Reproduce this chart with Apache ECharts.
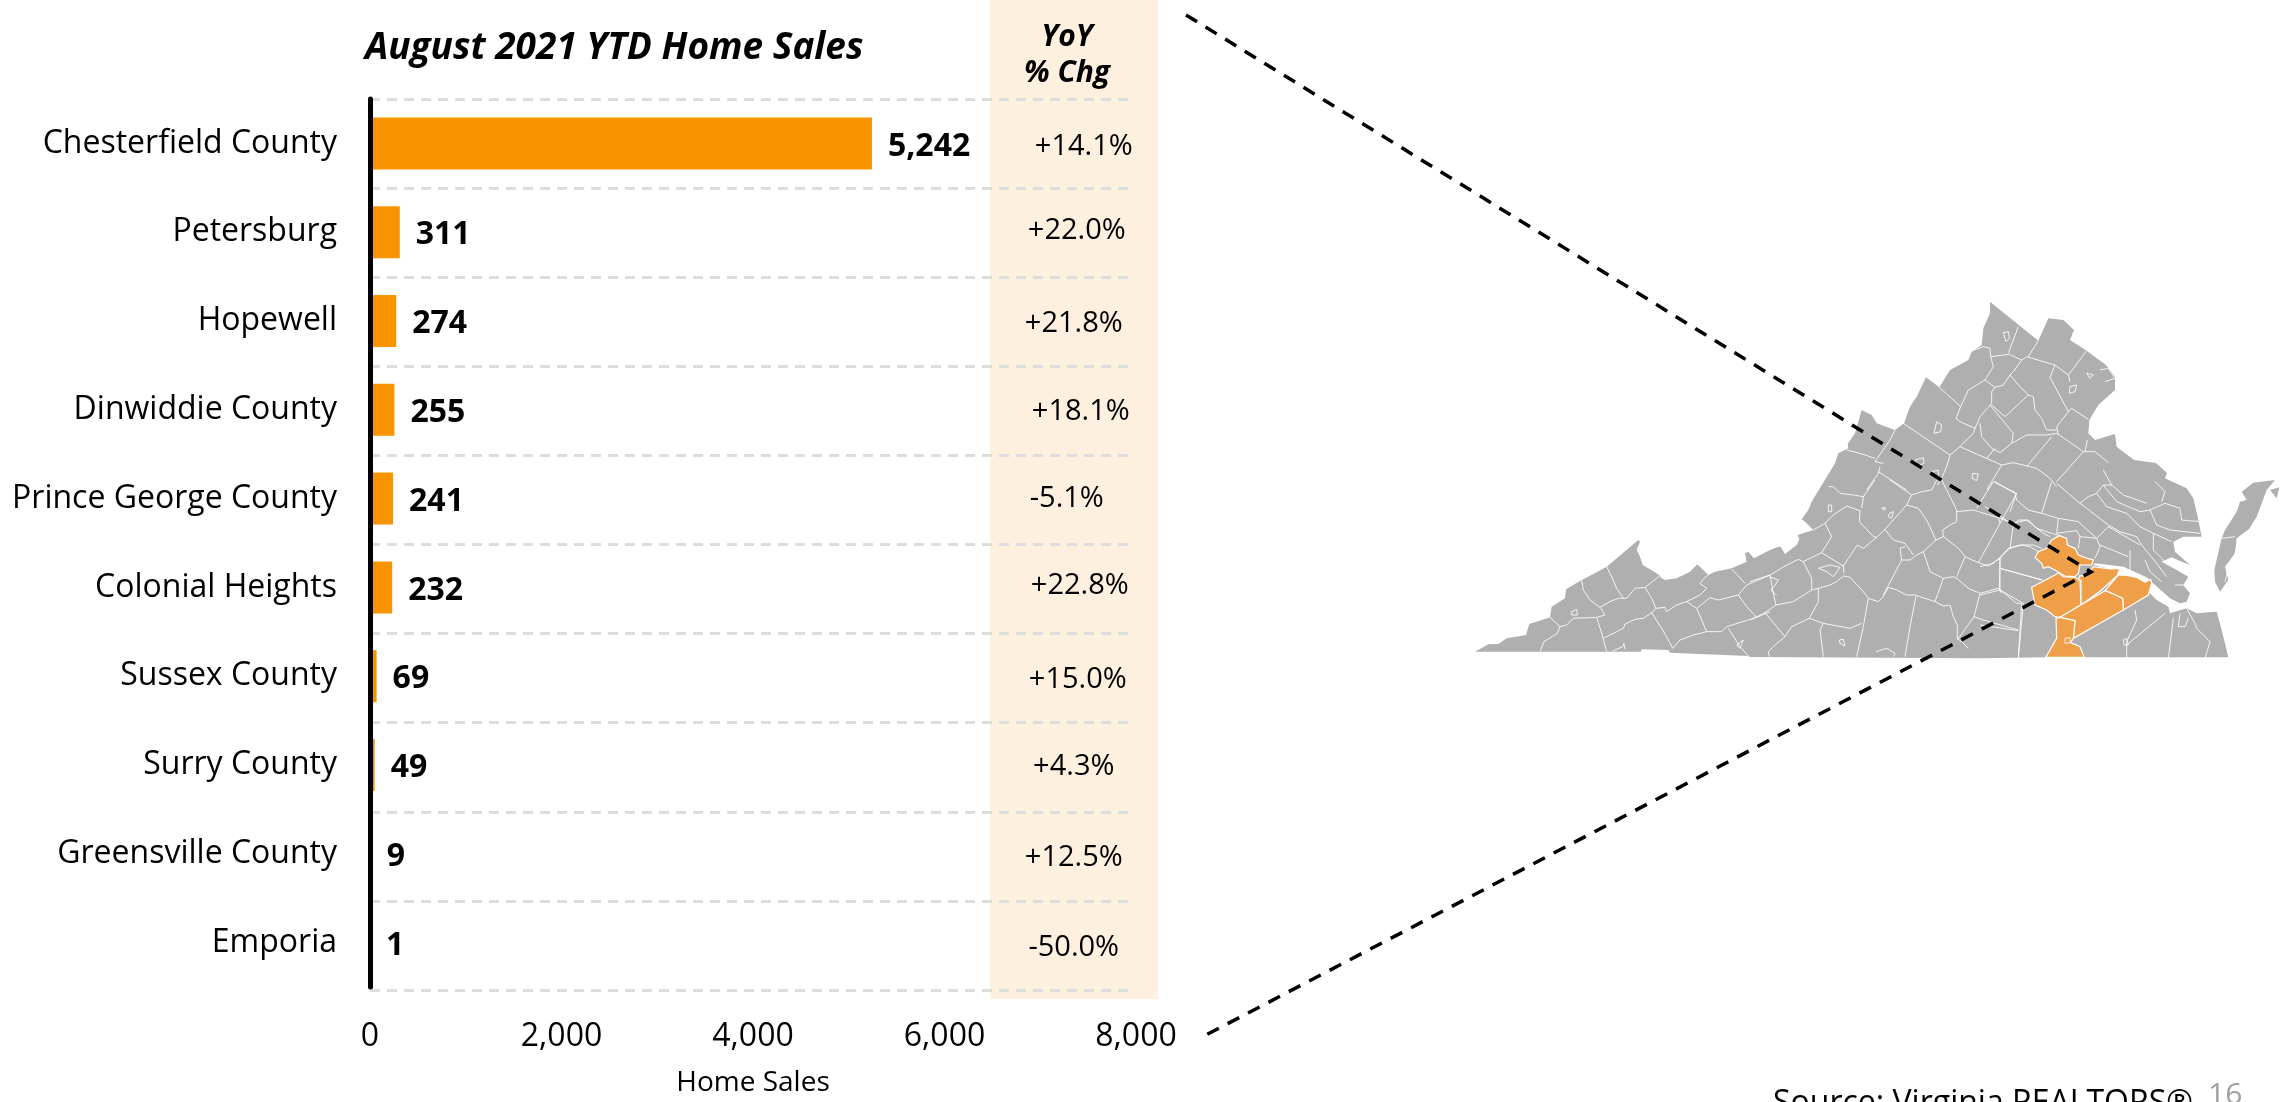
<!DOCTYPE html>
<html><head><meta charset="utf-8">
<script src="https://cdn.jsdelivr.net/npm/echarts@6/dist/echarts.min.js"></script>
<style>html,body{margin:0;padding:0;background:#fff;overflow:hidden}#c{width:2285px;height:1102px}</style>
</head><body><div id="c"></div>
<script>
// ---------- chart data ----------
const categories = ['Chesterfield County','Petersburg','Hopewell','Dinwiddie County','Prince George County','Colonial Heights','Sussex County','Surry County','Greensville County','Emporia'];
const homeSales = [5242,311,274,255,241,232,69,49,9,1];
const yoyChange = ['+14.1%','+22.0%','+21.8%','+18.1%','-5.1%','+22.8%','+15.0%','+4.3%','+12.5%','-50.0%'];
const xTicks = [0,2000,4000,6000,8000];

// ---------- annotation nudges (px) ----------
const yoyNudgeX = [10,3,0,7,-7,6,4,0,0,0];
const yoyNudgeY = [0,-4,0,-1,-3,-5,1,-1,1,2];

// ---------- traced map geometry: each group = crop origin + points at 3x ----------
const at = (ox,oy,pts) => pts.map(p => [ox+p[0]/3, oy+p[1]/3]);
const C5 = p => at(1470,500,p), C6 = p => at(1750,480,p), C7 = p => at(1980,470,p), C8 = p => at(1800,290,p);

const stateOutline = [].concat(
  C5([[15,455],[55,433],[85,432],[110,415],[168,405],[178,372],[240,352],[245,320],[285,295],[288,268],[335,240],[370,222],[410,200],[505,120],[510,125],[500,150],[510,170],[518,195],[540,208],[568,225],[572,232],[585,240],[620,235],[660,215],[682,193],[715,225],[735,215],[785,205],[830,185],[825,160],[835,155],[852,175],[900,150]]),
  C6([[85,200],[92,200],[105,222],[140,195],[148,178],[143,165],[190,150],[165,125],[155,118],[175,90],[185,65]]),
  C8([[105,520],[115,490],[145,475],[143,462],[165,430],[185,360],[215,375],[230,400],[285,420],[312,400],[330,350],[350,320],[378,262],[418,292],[450,240],[505,210],[515,185],[545,165],[550,115],[570,70],[570,35],[715,152],[745,85],[790,90],[822,120],[810,150],[860,182],[918,225],[945,260],[945,300],[895,345],[868,390],[865,430],[885,450],[945,432],[950,470]]),
  [[2134,460],[2156,463],[2167,473]],
  C7([[555,25],[620,55],[640,85],[655,150],[665,200],[610,200],[580,215],[585,245],[630,285],[605,275],[575,262],[545,275],[590,300],[625,320],[610,345],[630,370],[620,395],[600,400],[570,385],[525,345],[500,322],[470,308],[430,290],[345,280],[340,285],[390,297],[420,295],[412,316],[440,316],[470,322],[495,337],[512,328],[515,340],[505,365],[530,390],[565,410],[570,430],[620,415],[650,430],[710,425],[725,480],[745,562],[200,562],[0,565]]),
  C6([[0,531]]),
  C5([[835,468],[600,458],[595,450],[515,448],[513,455]])
);
const easternShore = C7([[820,38],[885,30],[860,60],[830,140],[810,175],[770,205],[765,250],[735,290],[745,330],[720,365],[705,335],[703,300],[725,205],[735,180],[770,125],[780,95],[800,90],[785,65]]);
const shoreSpeck = C7([[870,60],[898,52],[890,85]]);

const highlightedCounties = ['Chesterfield','Dinwiddie','Prince George','Surry','Sussex','Greensville'];
const highlightedShapes = [
  C7([[238,197],[260,205],[262,225],[285,235],[295,255],[322,265],[340,270],[335,285],[300,285],[295,310],[285,320],[255,318],[225,300],[205,290],[190,295],[185,280],[165,262],[175,245],[200,235],[215,210]]),
  C7([[155,352],[225,315],[235,308],[250,320],[285,322],[300,330],[303,405],[240,442],[225,440],[200,420],[165,405]]),
  C7([[303,405],[303,330],[295,330],[300,317],[320,318],[340,290],[390,297],[420,295],[412,316],[365,360]]),
  C7([[375,362],[415,315],[440,316],[470,322],[495,337],[512,328],[515,340],[505,375],[430,420],[428,385],[400,372]]),
  C7([[240,442],[375,362],[400,372],[428,385],[430,420],[280,505],[285,452]]),
  C7([[228,445],[240,442],[285,452],[280,505],[272,518],[300,530],[313,562],[197,562],[230,505]])
];

const countyLines = [].concat(
  [[[410,200],[425,230],[440,265],[460,295]],
   [[335,240],[340,270],[360,300],[390,322],[405,345],[380,352],[310,355],[290,375],[270,380],[262,400],[222,425],[210,455]],
   [[240,352],[270,380]],
   [[380,352],[395,400],[410,455]],
   [[390,322],[420,305],[445,295],[470,295],[495,265],[525,262],[560,235],[572,225]],
   [[525,262],[545,295],[558,325],[545,338],[520,355],[495,358],[465,372],[460,385],[400,415]],
   [[558,325],[585,322],[590,335],[620,315],[650,305],[680,325],[695,360],[710,395]],
   [[545,338],[575,385],[595,420],[608,445]],
   [[608,445],[630,420],[670,405],[710,395],[755,395],[770,380],[860,352],[900,335]],
   [[650,305],[690,285],[710,265],[690,250],[705,232],[715,225]],
   [[680,325],[720,293],[745,300],[805,285],[830,255],[900,225]],
   [[805,285],[830,320],[860,352]],
   [[785,207],[825,250]],
   [[775,385],[810,440],[835,468]],
   [[305,335],[320,328],[322,345],[305,345],[305,335]],
   [[800,435],[820,420],[810,445],[800,435]],
   [[428,453],[458,440],[462,430],[465,448]]].map(C5),
  [[[0,305],[60,285],[105,258],[145,238],[160,245],[180,235],[215,218],[280,258],[282,280]],
   [[160,245],[185,295],[185,330]],
   [[215,218],[245,170],[225,130],[250,105],[290,78],[330,92],[328,125],[370,170],[380,172],[405,148]],
   [[380,172],[340,205],[322,195],[295,235],[280,258]],
   [[60,285],[72,350],[78,375]],
   [[0,420],[45,398],[78,375],[130,365],[185,330],[205,325],[240,315],[260,305],[280,288],[300,292],[340,335],[355,355],[385,365],[400,350],[415,322],[440,330],[470,345],[495,345],[555,365],[580,378],[600,375],[610,410],[622,435],[622,475],[640,490],[655,505]],
   [[205,325],[205,365],[178,415],[125,440],[105,470],[75,495],[55,515],[58,530]],
   [[45,398],[80,440],[105,470]],
   [[178,415],[220,430],[300,445],[335,430]],
   [[220,430],[210,450],[220,530]],
   [[355,355],[340,440],[320,530]],
   [[498,348],[480,440],[465,530]],
   [[555,365],[580,295],[610,290],[620,295],[655,325],[690,340],[745,325],[800,370],[815,370]],
   [[580,295],[540,275],[520,215],[500,225],[480,240],[455,240],[450,205],[465,200]],
   [[520,215],[558,180],[580,170],[625,205],[645,230],[620,290]],
   [[645,230],[685,248],[715,258],[750,235],[775,205],[810,195],[850,195],[875,205]],
   [[685,248],[750,130],[745,115]],
   [[690,340],[672,410],[622,480]],
   [[672,410],[700,420],[805,450]],
   [[815,370],[805,530]],
   [[750,265],[878,300]],
   [[750,235],[748,330],[755,340]],
   [[405,148],[430,180],[465,190],[490,225]],
   [[455,240],[400,345]],
   [[405,148],[470,75],[505,85],[530,120],[558,180]],
   [[470,75],[485,45],[515,35],[545,30],[560,0]],
   [[485,45],[420,0]],
   [[575,0],[620,90],[620,125],[600,135],[578,150],[580,170]],
   [[620,95],[670,90],[750,115],[790,130],[830,120],[880,160],[900,170]],
   [[680,85],[730,5],[800,40],[750,130]],
   [[800,40],[780,95]],
   [[335,85],[340,50],[375,0]],
   [[340,50],[310,45],[270,40],[250,20],[235,20]],
   [[190,150],[225,130]],
   [[58,290],[85,300],[72,320],[62,330],[80,345]],
   [[235,75],[245,75],[245,95],[235,95],[235,75]],
   [[395,85],[405,82],[405,90],[395,85]],
   [[418,100],[430,95],[425,115],[415,110],[418,100]],
   [[205,265],[240,255],[270,262],[250,290],[230,275],[205,265]],
   [[268,480],[280,478],[285,498],[270,490],[268,480]],
   [[378,515],[410,505],[435,520],[430,530]]].map(C6),
  [[[45,35],[105,70],[110,90],[145,120],[185,130],[235,145],[230,190]],
   [[215,35],[185,130]],
   [[15,110],[55,135],[100,165],[90,235],[60,262],[40,280],[0,290]],
   [[100,165],[115,150],[145,150],[170,175],[215,190],[240,197]],
   [[90,235],[125,225],[150,230],[175,245]],
   [[60,262],[60,360],[0,375]],
   [[60,295],[185,330]],
   [[60,360],[130,400],[115,565]],
   [[0,465],[115,482]],
   [[235,145],[295,155],[350,205]],
   [[230,190],[265,185],[290,182],[300,200],[295,235]],
   [[300,200],[350,205],[360,230],[345,265]],
   [[350,205],[385,170],[480,225]],
   [[230,40],[300,100],[325,80],[350,70],[370,45],[395,45],[370,0]],
   [[300,100],[320,115],[385,165],[420,185],[470,200],[485,225],[530,280],[560,320]],
   [[350,70],[380,110],[440,130],[480,170],[520,190],[575,215]],
   [[370,45],[410,95],[480,125],[510,120],[555,100],[600,115],[605,150],[660,155]],
   [[510,120],[530,165],[570,180],[660,190]],
   [[395,45],[430,75],[500,100]],
   [[525,35],[555,65],[545,95]],
   [[520,190],[520,240],[565,285]],
   [[450,240],[450,305]],
   [[360,225],[445,260]],
   [[495,270],[510,305],[545,335]],
   [[585,345],[615,345]],
   [[465,420],[470,450],[440,515],[440,565]],
   [[440,525],[555,430]],
   [[565,565],[580,445]],
   [[645,470],[690,515],[675,565]],
   [[430,510],[440,505],[445,525],[432,525],[430,510]],
   [[600,430],[595,470],[615,470],[625,445]],
   [[620,415],[650,470]],
   [[255,505],[270,503],[270,518],[255,520],[255,505]],
   [[825,150],[805,185],[790,225],[770,235],[760,265],[745,285],[740,315],[735,335]],
   [[815,170],[795,200],[785,245],[765,260],[750,300],[745,340]],
   [[725,205],[765,200]]].map(C7),
  [[[418,292],[482,350],[468,385],[480,395],[525,415]],
   [[482,350],[505,300],[555,270],[585,292],[575,305],[575,340],[540,380],[525,415],[520,430],[480,470],[450,495],[440,530],[425,565],[412,585]],
   [[555,270],[580,230],[572,200],[628,193],[665,210],[640,245],[630,255],[610,285],[585,292]],
   [[510,185],[550,170],[570,175],[572,200]],
   [[655,110],[625,190]],
   [[665,210],[680,200],[765,225],[805,255]],
   [[715,152],[685,200]],
   [[860,182],[805,255],[810,275]],
   [[765,225],[750,262],[805,365]],
   [[630,255],[660,290],[685,315],[615,380],[575,345]],
   [[685,315],[700,320],[705,360],[725,385],[740,420],[770,420]],
   [[805,365],[770,410],[775,435]],
   [[805,365],[815,355],[865,388]],
   [[570,345],[640,430],[635,460],[600,488],[575,475],[545,440],[540,400]],
   [[635,460],[680,435],[740,435],[770,430],[800,450],[850,485],[885,485],[925,518]],
   [[855,485],[862,450]],
   [[755,440],[680,530]],
   [[850,485],[770,575]],
   [[480,470],[605,525],[560,600]],
   [[605,525],[640,518],[710,535],[750,565],[770,590]],
   [[585,475],[560,505]],
   [[310,400],[450,495]],
   [[140,480],[180,490],[225,505]],
   [[285,420],[270,450],[225,515],[250,520]],
   [[240,530],[235,550],[200,600]],
   [[235,545],[320,600]],
   [[610,128],[625,125],[628,145],[618,155],[610,128]],
   [[860,250],[880,255],[870,265],[860,250]],
   [[810,290],[830,285],[825,305],[808,310],[810,290]],
   [[410,395],[425,405],[422,425],[402,430],[410,395]],
   [[345,510],[370,503],[372,520],[355,527],[345,510]],
   [[395,545],[415,540],[415,560],[395,555],[395,545]],
   [[518,550],[535,552],[530,572],[516,565],[518,550]],
   [[900,240],[925,235],[945,265],[915,275]]].map(C8)
);

const calloutLine = [[1186,15],[2091,572],[1206,1035]];

// ---------- colours ----------
const BAR = '#F79400', MAPGREY = '#AFAFAF', MAPHI = '#EF9F47', BAND = '#FDF0DE', GRID = '#DDDDDD';
const FONT = '"Open Sans"';

const baseShapes = [stateOutline, easternShore, shoreSpeck];

const polygonRenderer = (shapes, fill, stroke, strokeWidth) => (params, api) => ({
  type:'polygon', silent:true,
  shape:{points:shapes[params.dataIndex].map(p => api.coord(p))},
  style:{fill, stroke, lineWidth:strokeWidth}
});

const chart = echarts.init(document.getElementById('c'), null, {renderer:'canvas'});
chart.setOption({
  animation:false,
  backgroundColor:'#fff',
  title:[
    {text:'August 2021 YTD Home Sales', left:360, top:25, textStyle:{fontFamily:FONT,fontSize:37,fontWeight:'bold',fontStyle:'italic',color:'#000'}},
    {text:'YoY\n% Chg', left:1062, top:14, textAlign:'center', textStyle:{fontFamily:FONT,fontSize:30,fontWeight:'bold',fontStyle:'italic',color:'#000',lineHeight:36,align:'center'}}
  ],
  grid:[
    {left:370, top:99, width:766, height:891},
    {left:370, top:99, width:759, height:891},
    {left:0, top:0, width:2285, height:1102}
  ],
  xAxis:[
    {gridIndex:0, type:'value', min:0, max:8000, interval:2000, name:'Home Sales', nameLocation:'middle', nameGap:82,
     nameTextStyle:{fontFamily:FONT,fontSize:28,color:'#000'},
     axisLine:{show:false}, axisTick:{show:false}, splitLine:{show:false},
     axisLabel:{fontFamily:FONT,fontSize:32,color:'#000',margin:34,showMaxLabel:true,
       formatter:v => xTicks.includes(v) ? v.toLocaleString('en-US') : ''}},
    {gridIndex:1, type:'value', min:0, max:1, show:false},
    {gridIndex:2, type:'value', min:0, max:2285, show:false}
  ],
  yAxis:[
    {gridIndex:0, type:'category', inverse:true, data:categories,
     axisLine:{show:true,lineStyle:{color:'#000',width:5}}, axisTick:{show:false}, splitLine:{show:false},
     axisLabel:{fontFamily:FONT,fontSize:32,color:'#000',margin:33,padding:[0,0,5,0]}, z:5},
    {gridIndex:1, type:'category', inverse:true, data:categories,
     axisLine:{show:false}, axisTick:{show:false}, axisLabel:{show:false},
     splitLine:{show:true,interval:0,lineStyle:{color:GRID,width:3,type:[10,7]}}},
    {gridIndex:2, type:'value', inverse:true, min:0, max:1102, show:false}
  ],
  graphic:[
    {type:'rect', z:-1, silent:true, shape:{x:990,y:0,width:168,height:999}, style:{fill:BAND}},
    {type:'text', left:1773, top:1088, silent:true, style:{text:'Source: Virginia REALTORS®', fontFamily:FONT, fontSize:32, fill:'#000'}},
    {type:'text', left:2208, top:1080, silent:true, style:{text:'16', fontFamily:FONT, fontSize:30, fill:'#A0A0A0'}}
  ],
  series:[
    {type:'bar', xAxisIndex:0, yAxisIndex:0, data:homeSales, barWidth:52, z:3,
     itemStyle:{color:BAR},
     label:{show:true, position:'right', distance:16, offset:[0,3], color:'#000', fontFamily:FONT, fontSize:32, fontWeight:'bold',
       formatter:p => p.value.toLocaleString('en-US')}},
    {type:'scatter', xAxisIndex:0, yAxisIndex:0, symbolSize:0, z:4, itemStyle:{opacity:1},
     data:yoyChange.map((t,i)=>({value:[7350,categories[i]], label:{offset:[yoyNudgeX[i],yoyNudgeY[i]+3]}})),
     label:{show:true, position:'inside', color:'#000', opacity:1, fontFamily:FONT, fontSize:29,
       formatter:p => yoyChange[p.dataIndex]}},
    {type:'custom', name:'Virginia', xAxisIndex:2, yAxisIndex:2, z:1, silent:true,
     data:baseShapes.map(()=>[0,0]), renderItem:polygonRenderer(baseShapes, MAPGREY, 'none', 0)},
    {type:'custom', name:'Market area', xAxisIndex:2, yAxisIndex:2, z:2, silent:true,
     data:highlightedCounties.map(n=>({name:n,value:[0,0]})), renderItem:polygonRenderer(highlightedShapes, MAPHI, '#fff', 1.2)},
    {type:'lines', coordinateSystem:'cartesian2d', xAxisIndex:2, yAxisIndex:2, polyline:true, silent:true, z:3, symbol:'none',
     lineStyle:{color:'#fff', width:1, opacity:0.85},
     data:countyLines.map(c=>({coords:c}))},
    {type:'lines', coordinateSystem:'cartesian2d', xAxisIndex:2, yAxisIndex:2, polyline:true, silent:true, z:6, symbol:'none',
     lineStyle:{color:'#000', width:3.5, opacity:1, type:[13,10]},
     data:[{coords:calloutLine}]}
  ]
});
</script></body></html>
